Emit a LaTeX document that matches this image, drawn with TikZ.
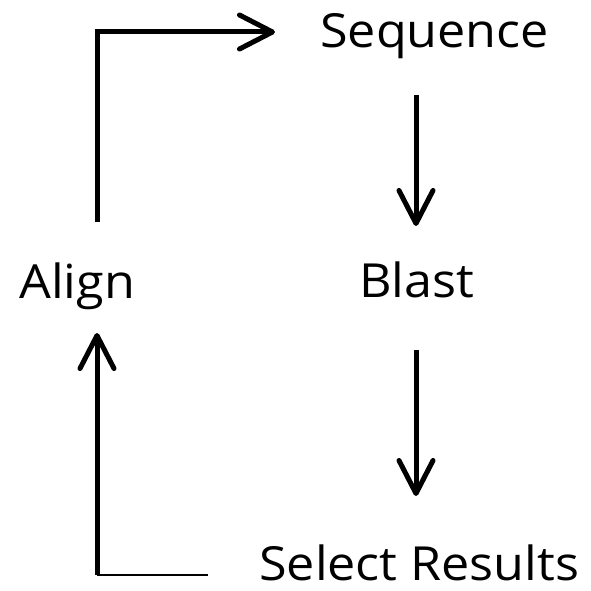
\documentclass[tikz,border=0pt]{standalone}
\usepackage{fontspec}
\setmainfont{Open Sans}
\usetikzlibrary{arrows.meta}
\tikzset{
  lbl/.style={anchor=base west,inner sep=0pt,font=\fontsize{47}{56}\selectfont,xscale=1.07,transform shape},
  flow/.style={line width=5pt,-{Straight Barb[length=33pt,width=34pt,line cap=round,line join=round]}},
  thinline/.style={line width=2pt}
}
\begin{document}
\begin{tikzpicture}[x=1pt,y=-1pt]
\useasboundingbox (0,0) rectangle (590,591);
\node[lbl] (seq) at (320,48) {Sequence};
\node[lbl] (blast) at (359,297) {Blast};
\node[lbl] (align) at (19,298) {Align};
\node[lbl,text depth=0pt] (sel) at (259,580) {Select Results};
\coordinate (a1) at (97,222);
\coordinate (a2) at (97,32);
\coordinate (a3) at (275,32);
\coordinate (b1) at (416,95);
\coordinate (b2) at (416,226);
\coordinate (c1) at (416,350);
\coordinate (c2) at (416,496);
\coordinate (d0) at (208,575);
\coordinate (d1) at (97,575);
\coordinate (d2) at (97,333);
\draw[flow] (a1) -- (a2) -- (a3);
\draw[flow] (b1) -- (b2);
\draw[flow] (c1) -- (c2);
\draw[thinline] (d0) -- (d1);
\draw[flow] (d1) -- (d2);
\end{tikzpicture}
\end{document}
